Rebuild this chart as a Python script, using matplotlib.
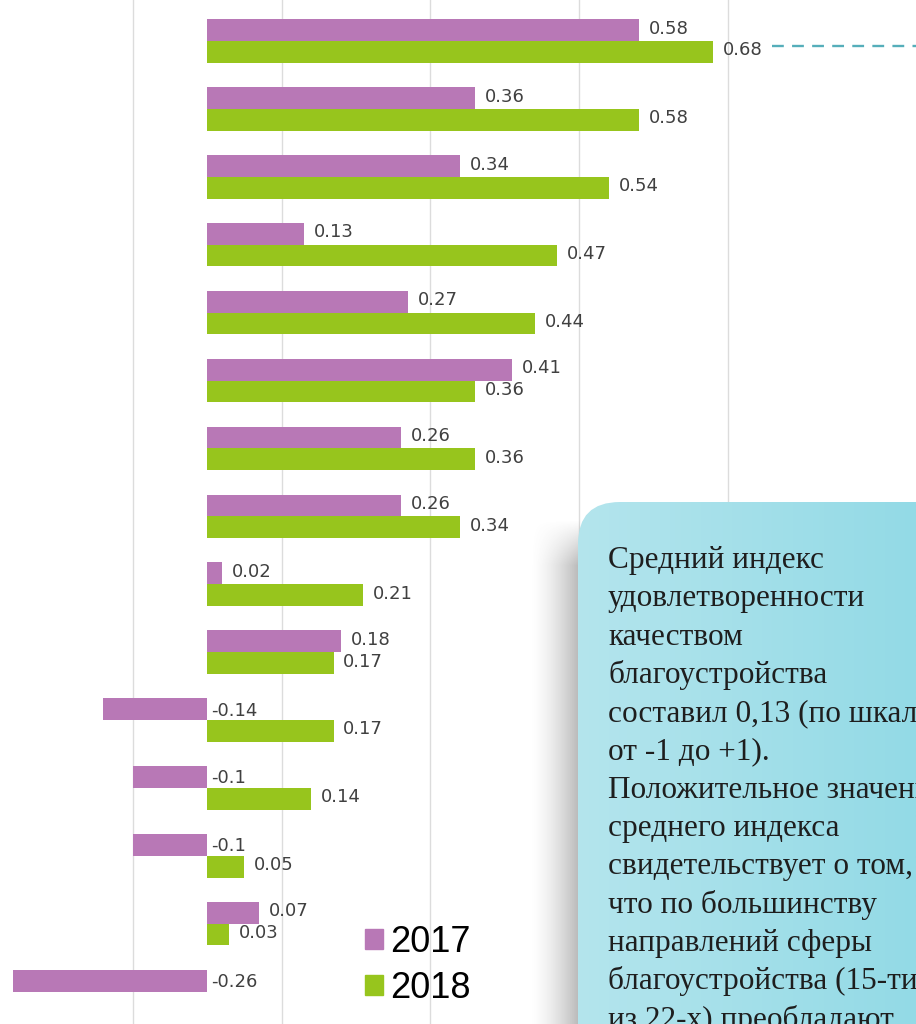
#!/usr/bin/env python3
"""Satisfaction index by direction, 2017 vs 2018, with a side note box."""

import numpy as np
import matplotlib
matplotlib.use("Agg")
import matplotlib.pyplot as plt
from matplotlib.colors import LinearSegmentedColormap
from matplotlib.patches import FancyBboxPatch, Patch


YEARS = ["2017", "2018"]
VALUES_2017 = [0.58, 0.36, 0.34, 0.13, 0.27, 0.41, 0.26, 0.26, 0.02, 0.18,
               -0.14, -0.1, -0.1, 0.07, -0.26]
VALUES_2018 = [0.68, 0.58, 0.54, 0.47, 0.44, 0.36, 0.36, 0.34, 0.21, 0.17,
               0.17, 0.14, 0.05, 0.03, None]
GRID_TICKS = [-0.1, 0.1, 0.3, 0.5, 0.7]

NOTE_LINES = [
    "Средний индекс",
    "удовлетворенности",
    "качеством",
    "благоустройства",
    "составил 0,13 (по шкале",
    "от -1 до +1).",
    "Положительное значение",
    "среднего индекса",
    "свидетельствует о том,",
    "что по большинству",
    "направлений сферы",
    "благоустройства (15-ти",
    "из 22-х) преобладают",
]

COLOR = {"2017": "#b878b6", "2018": "#97c51d"}
LABEL_COLOR = "#404040"
BAR_H = 0.32


def fmt(v):
  return f"{v:g}"


def main():
  fig = plt.figure(figsize=(9.16, 10.24), dpi=100)
  ax = fig.add_axes([0, 0, 1, 1])

  n = len(VALUES_2017)
  y = np.arange(n)
  for year, vals, shift in [("2017", VALUES_2017, -BAR_H / 2),
                            ("2018", VALUES_2018, BAR_H / 2)]:
    for yi, v in zip(y, vals):
      if v is None:
        continue
      ax.barh(yi + shift, v, height=BAR_H, color=COLOR[year], zorder=3)
      xpos = v if v > 0 else 0
      dx = 7 if v > 0 else 3
      dy = 1 if v > 0 else -1
      ax.annotate(fmt(v), (xpos, yi + shift), xytext=(dx, dy),
                  textcoords="offset points", ha="left", va="center",
                  fontsize=13, color=LABEL_COLOR, zorder=4)

  ax.set_xlim(-0.278, 0.952)
  ax.set_ylim(14.477, -0.604)
  ax.set_xticks(GRID_TICKS)
  ax.set_yticks([])
  ax.tick_params(axis="x", length=0, labelbottom=False)
  ax.grid(True, axis="x", color="#dcdcdc", linewidth=1.0, zorder=0)
  ax.set_axisbelow(True)
  for s in ax.spines.values():
    s.set_visible(False)

  handles = [Patch(color=COLOR[yr], label=yr) for yr in YEARS]
  ax.legend(handles=handles, loc="upper left", bbox_to_anchor=(365 / 916, 1 - 925 / 1024),
            bbox_transform=fig.transFigure, frameon=False,
            prop={"family": "Liberation Sans", "size": 26},
            handlelength=0.5, handleheight=0.5, handletextpad=0.2,
            labelspacing=0.3, borderpad=0, borderaxespad=0)

  # overlay in pixel coordinates for the note box
  ov = fig.add_axes([0, 0, 1, 1], zorder=5)
  ov.set_axis_off()
  ov.patch.set_alpha(0)

  # soft shadow to the left of the box
  sw, sh = 48, 1024 - 520
  xx = np.linspace(0, 1, sw)[None, :]
  yy = np.clip(np.linspace(0, 1, sh)[:, None] * sh / 45.0, 0, 1)
  alpha = (xx ** 1.5) * 0.48 * yy
  shadow = np.zeros((sh, sw, 4))
  shadow[..., :3] = 0.42
  shadow[..., 3] = alpha
  ov.imshow(shadow, extent=[578 - sw, 580, 1024, 520], aspect="auto",
            interpolation="bilinear", zorder=1)

  box = FancyBboxPatch((578, 502), 500, 700, boxstyle="round,pad=0,rounding_size=42",
                       facecolor="none", edgecolor="none", zorder=2)
  ov.add_patch(box)
  cmap = LinearSegmentedColormap.from_list("note", ["#b4e5ed", "#93dae6"])
  grad = np.linspace(0, 1, 256)[None, :]
  img = ov.imshow(grad, extent=[578, 916, 1024, 502], aspect="auto",
                  cmap=cmap, zorder=2)
  img.set_clip_path(box)

  for i, line in enumerate(NOTE_LINES):
    ov.text(608, 568 + 38.3 * i, line, ha="left", va="baseline",
            fontsize=22.5, family="Liberation Serif", color="#1e1e1e", zorder=3)

  ov.plot([772, 916], [46, 46], color="#55aeba", linewidth=1.7,
          linestyle=(0, (5, 3.5)), zorder=3)

  ov.set_xlim(0, 916)
  ov.set_ylim(1024, 0)

  fig.savefig("out.png", dpi=100)
  plt.close(fig)


if __name__ == "__main__":
  main()
